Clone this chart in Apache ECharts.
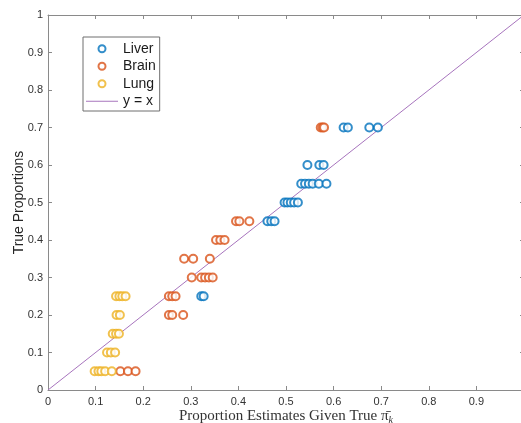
<!DOCTYPE html>
<html>
<head>
<meta charset="utf-8">
<script src="https://cdn.jsdelivr.net/npm/echarts@6/dist/echarts.min.js"></script>
<style>
  html, body { margin: 0; padding: 0; background: #fff; }
  #chart { width: 521px; height: 423px; }
</style>
</head>
<body>
<div id="chart"></div>
<script>
// Estimated proportions (x) against true proportions (y) for each tissue
var liverX = [0.621, 0.630, 0.675, 0.693,
              0.545, 0.570, 0.579,
              0.532, 0.540, 0.548, 0.556, 0.569, 0.585,
              0.497, 0.503, 0.510, 0.517, 0.525,
              0.461, 0.469, 0.476,
              0.322, 0.327];
var liverY = [0.7, 0.7, 0.7, 0.7,
              0.6, 0.6, 0.6,
              0.55, 0.55, 0.55, 0.55, 0.55, 0.55,
              0.5, 0.5, 0.5, 0.5, 0.5,
              0.45, 0.45, 0.45,
              0.25, 0.25];

var brainX = [0.573, 0.577, 0.580,
              0.395, 0.402, 0.423,
              0.353, 0.362, 0.371,
              0.286, 0.305, 0.340,
              0.302, 0.322, 0.330, 0.338, 0.346,
              0.254, 0.261, 0.268,
              0.254, 0.261, 0.284,
              0.152, 0.168, 0.184];
var brainY = [0.7, 0.7, 0.7,
              0.45, 0.45, 0.45,
              0.4, 0.4, 0.4,
              0.35, 0.35, 0.35,
              0.3, 0.3, 0.3, 0.3, 0.3,
              0.25, 0.25, 0.25,
              0.2, 0.2, 0.2,
              0.05, 0.05, 0.05];

var lungX = [0.143, 0.150, 0.156, 0.163,
             0.144, 0.151,
             0.136, 0.143, 0.149,
             0.124, 0.132, 0.141,
             0.098, 0.106, 0.112, 0.120, 0.134];
var lungY = [0.25, 0.25, 0.25, 0.25,
             0.2, 0.2,
             0.15, 0.15, 0.15,
             0.1, 0.1, 0.1,
             0.05, 0.05, 0.05, 0.05, 0.05];

var identityX = [0, 1];
var identityY = [0, 1];

var seriesNames = ['Liver', 'Brain', 'Lung', 'y = x'];
var seriesColors = ['#0072BD', '#D95319', '#EDB120', '#a774bd'];

function zip(xs, ys) {
  return xs.map(function (x, i) { return [x, ys[i]]; });
}

var axisGray = '#8a8a8a';
var labelColor = '#333333';
var sans = '"Liberation Sans", Arial, Helvetica, sans-serif';
var serif = '"Liberation Serif", "Times New Roman", serif';

function scatter(name, xs, ys, color) {
  return {
    name: name,
    type: 'scatter',
    data: zip(xs, ys),
    symbol: 'emptyCircle',
    symbolSize: 8,
    itemStyle: { color: color, borderWidth: 1.1 },
    emphasis: { disabled: true },
    z: 3
  };
}

var chart = echarts.init(document.getElementById('chart'), null, { renderer: 'canvas' });

chart.setOption({
  animation: false,
  backgroundColor: '#ffffff',
  grid: { left: 48, top: 15, width: 476, height: 375, containLabel: false, outerBoundsMode: 'none' },
  legend: {
    orient: 'vertical',
    left: 83,
    top: 37,
    padding: [3, 4, 1, 3],
    itemGap: 0,
    itemWidth: 32,
    itemHeight: 7,
    borderColor: '#6e6e6e',
    borderWidth: 1,
    backgroundColor: '#ffffff',
    data: [
      { name: seriesNames[0] },
      { name: seriesNames[1] },
      { name: seriesNames[2] },
      { name: seriesNames[3], icon: 'path://M0,0h32v1h-32z', itemStyle: { color: seriesColors[3] } }
    ],
    textStyle: { fontFamily: sans, fontSize: 14, color: '#1a1a1a', lineHeight: 17.5 }
  },
  xAxis: [{
    type: 'value',
    min: 0, max: 1, interval: 0.1,
    name: '{a|Proportion Estimates Given True }{b|\u03c0\u0304}{c|k}',
    nameLocation: 'middle',
    nameGap: 17,
    nameMoveOverlap: false,
    nameTextStyle: {
      rich: {
        a: { fontFamily: serif, fontSize: 15, color: '#333' },
        b: { fontFamily: serif, fontSize: 15, color: '#333' },
        c: { fontFamily: serif, fontStyle: 'italic', fontSize: 10, color: '#333', padding: [8, 0, 0, 0] }
      }
    },
    axisLine: { show: true, lineStyle: { color: axisGray, width: 1 } },
    axisTick: { show: true, inside: true, length: 4, lineStyle: { color: axisGray } },
    axisLabel: { fontFamily: sans, fontSize: 11, color: labelColor, margin: 6, showMaxLabel: false },
    splitLine: { show: false }
  }, {
    type: 'value',
    position: 'top',
    min: 0, max: 1, interval: 0.1,
    axisLine: { show: true, onZero: false, lineStyle: { color: axisGray, width: 1 } },
    axisTick: { show: true, inside: true, length: 4, lineStyle: { color: axisGray } },
    axisLabel: { show: false },
    splitLine: { show: false }
  }],
  yAxis: [{
    type: 'value',
    min: 0, max: 1, interval: 0.1,
    name: 'True Proportions',
    nameLocation: 'middle',
    nameGap: 22,
    nameMoveOverlap: false,
    nameTextStyle: { fontFamily: sans, fontSize: 14, color: '#262626' },
    axisLine: { show: true, lineStyle: { color: axisGray, width: 1 } },
    axisTick: { show: true, inside: true, length: 4, lineStyle: { color: axisGray } },
    axisLabel: { fontFamily: sans, fontSize: 11, color: labelColor, margin: 5 },
    splitLine: { show: false }
  }, {
    type: 'value',
    position: 'right',
    min: 0, max: 1, interval: 0.1,
    axisLine: { show: true, onZero: false, lineStyle: { color: axisGray, width: 1 } },
    axisTick: { show: true, inside: true, length: 4, lineStyle: { color: axisGray } },
    axisLabel: { show: false },
    splitLine: { show: false }
  }],
  series: [
    scatter(seriesNames[0], liverX, liverY, seriesColors[0]),
    scatter(seriesNames[1], brainX, brainY, seriesColors[1]),
    scatter(seriesNames[2], lungX, lungY, seriesColors[2]),
    {
      name: seriesNames[3],
      type: 'line',
      data: zip(identityX, identityY),
      showSymbol: false,
      symbol: 'none',
      lineStyle: { color: seriesColors[3], width: 1 },
      itemStyle: { color: seriesColors[3] },
      emphasis: { disabled: true },
      z: 2
    }
  ]
});
</script>
</body>
</html>
